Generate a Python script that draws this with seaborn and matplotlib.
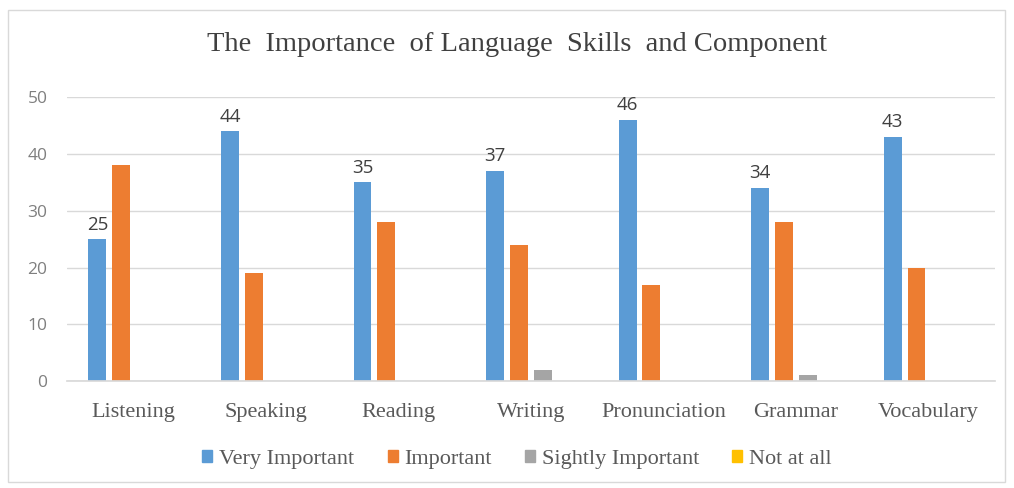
import pandas as pd
import seaborn as sns
import matplotlib.pyplot as plt
from matplotlib.patches import Rectangle

# values
skills = ['Listening', 'Speaking', 'Reading', 'Writing', 'Pronunciation', 'Grammar', 'Vocabulary']
very_important = [25, 44, 35, 37, 46, 34, 43]
important = [38, 19, 28, 24, 17, 28, 20]
slightly_important = [0, 0, 0, 2, 0, 1, 0]
not_at_all = [0, 0, 0, 0, 0, 0, 0]
series = ['Very Important', 'Important', 'Sightly Important', 'Not at all']
colors = ['#5B9BD5', '#ED7D31', '#A5A5A5', '#FFC000']

df = pd.DataFrame({
    'skill': skills * 4,
    'level': [s for s in series for _ in skills],
    'count': very_important + important + slightly_important + not_at_all,
})

sns.set_theme(style='white')
serif = ['Liberation Serif', 'DejaVu Serif']
sans = ['Open Sans', 'DejaVu Sans']

fig = plt.figure(figsize=(10.14, 4.88), dpi=100)
ax = fig.add_axes([0.066, 0.219, 0.915, 0.582])
sns.barplot(data=df, x='skill', y='count', hue='level', palette=colors,
            width=0.72, gap=0.25, ax=ax, legend=False, saturation=1,
            edgecolor='none', linewidth=0)

ax.set_ylim(0, 50)
ax.set_yticks(range(0, 51, 10))
ax.grid(axis='y', color='#D9D9D9', linewidth=1)
ax.set_axisbelow(True)
for s in ['top', 'right', 'left']:
    ax.spines[s].set_visible(False)
ax.spines['bottom'].set_color('#D9D9D9')
ax.tick_params(axis='x', length=0, labelcolor='#595959', labelsize=16, pad=16)
ax.tick_params(axis='y', length=0, labelcolor='#7F7F7F', labelsize=12.5, pad=14)
for lab in ax.get_xticklabels():
    lab.set_family(serif)
for lab in ax.get_yticklabels():
    lab.set_family(sans)
ax.set_xlabel('')
ax.set_ylabel('')

# labels above the "Very Important" bars only
ax.bar_label(ax.containers[0], padding=4, fontsize=13.5, color='#404040', family=sans)

fig.suptitle('The  Importance  of Language  Skills  and Component', x=0.51, y=0.935,
             fontsize=20.5, color='#404040', family=serif)

handles = [Rectangle((0, 0), 1, 1, color=c) for c in colors]
fig.legend(handles, series, loc='center', bbox_to_anchor=(0.51, 0.058), ncol=4,
           frameon=False, handlelength=0.45, handleheight=0.45, handletextpad=0.3,
           columnspacing=1.5, prop={'family': serif, 'size': 16}, labelcolor='#595959')

fig.patches.append(Rectangle((0.008, 0.012), 0.983, 0.968, transform=fig.transFigure,
                             fill=False, edgecolor='#D9D9D9', linewidth=1))

plt.savefig('out.png', dpi=100)
